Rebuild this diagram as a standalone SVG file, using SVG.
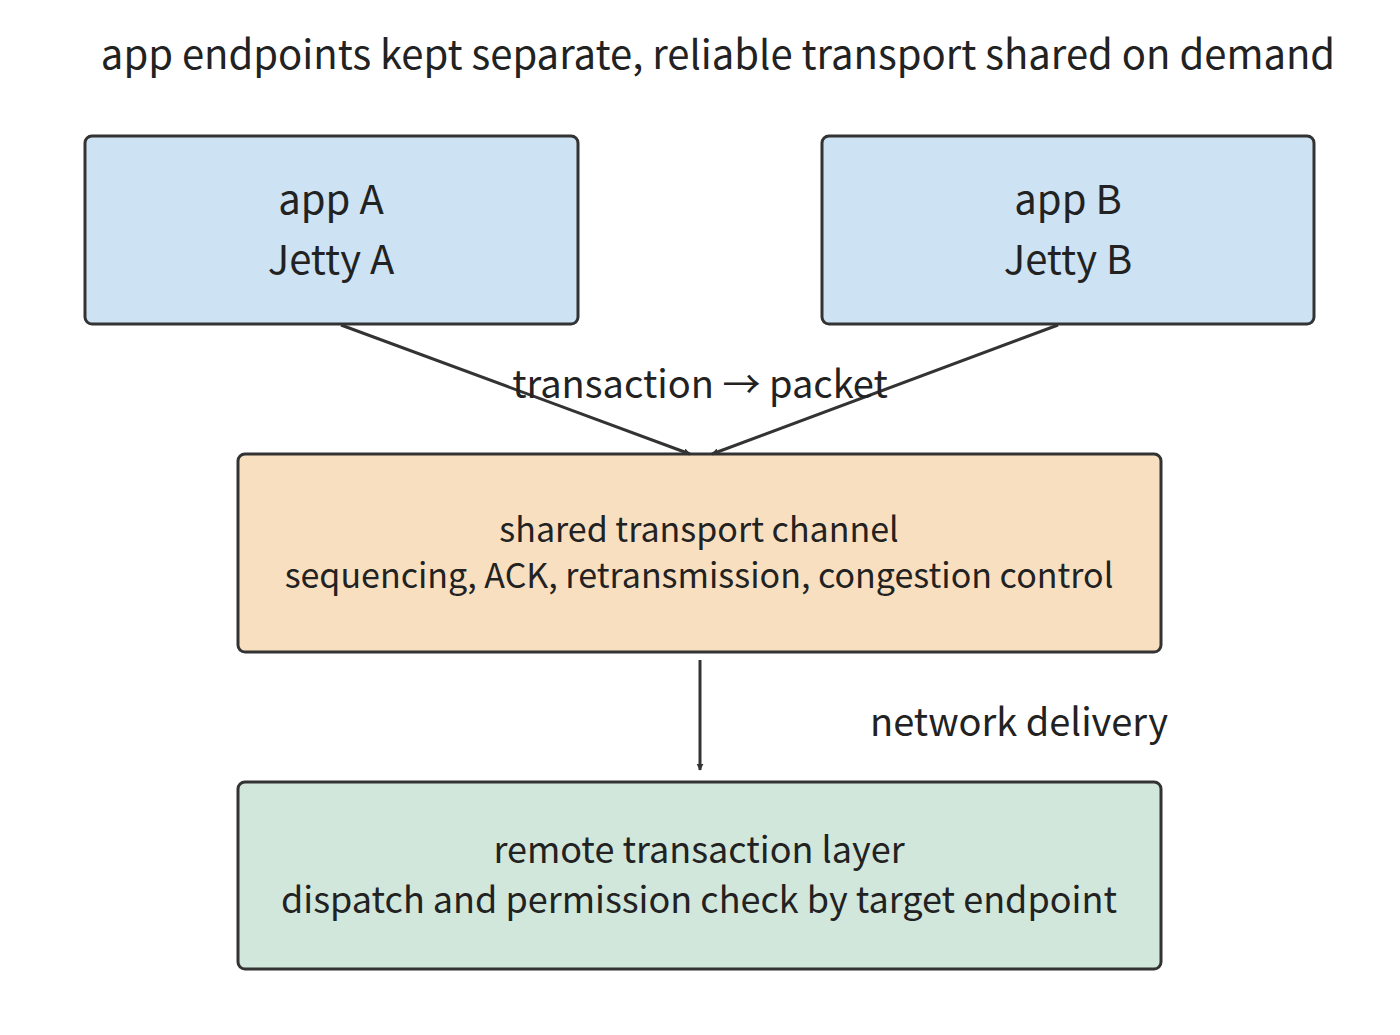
<svg xmlns="http://www.w3.org/2000/svg" width="1400" height="1035" viewBox="0 0 1400 1035">
<style>
text{font-family:"Noto Sans CJK SC","Noto Sans",sans-serif;fill:#222;text-anchor:middle;dominant-baseline:central}
.box{stroke:#333;stroke-width:3}
.e{stroke:#333;stroke-width:3;fill:none;marker-end:url(#ah)}
</style>
<defs><marker id="ah" viewBox="0 0 10 10" refX="9" refY="5" markerWidth="7" markerHeight="7" markerUnits="userSpaceOnUse" orient="auto"><path d="M0,0L10,5L0,10z" fill="#333"/></marker>
</defs>
<rect width="1400" height="1035" fill="#fff"/>
<text x="718" y="52" font-size="40">app endpoints kept separate, reliable transport shared on demand</text>
<g id="appA"><rect class="box" x="85" y="136" width="493" height="188" rx="7" fill="#cde3f3"/><text x="331" y="197" font-size="40">app A</text><text x="331" y="257" font-size="40">Jetty A</text></g>
<g id="appB"><rect class="box" x="822" y="136" width="492" height="188" rx="7" fill="#cde3f3"/><text x="1068" y="197" font-size="40">app B</text><text x="1068" y="257" font-size="40">Jetty B</text></g>
<g id="transport"><rect class="box" x="238" y="454" width="923" height="198" rx="7" fill="#f8dfc0"/><text x="699" y="527" font-size="34">shared transport channel</text><text x="699" y="573" font-size="34">sequencing, ACK, retransmission, congestion control</text></g>
<g id="remote"><rect class="box" x="238" y="782" width="923" height="187" rx="7" fill="#d2e7dc"/><text x="699" y="847" font-size="36">remote transaction layer</text><text x="699" y="897" font-size="36">dispatch and permission check by target endpoint</text></g>
<g id="connectors">
<path class="e" d="M341,325L690,454"/>
<path class="e" d="M1058,325L712,454"/>
<path class="e" d="M700,660L700,770"/>
<text x="700" y="381" font-size="38">transaction → packet</text>
<text x="1019" y="719" font-size="38">network delivery</text>
</g>
</svg>
